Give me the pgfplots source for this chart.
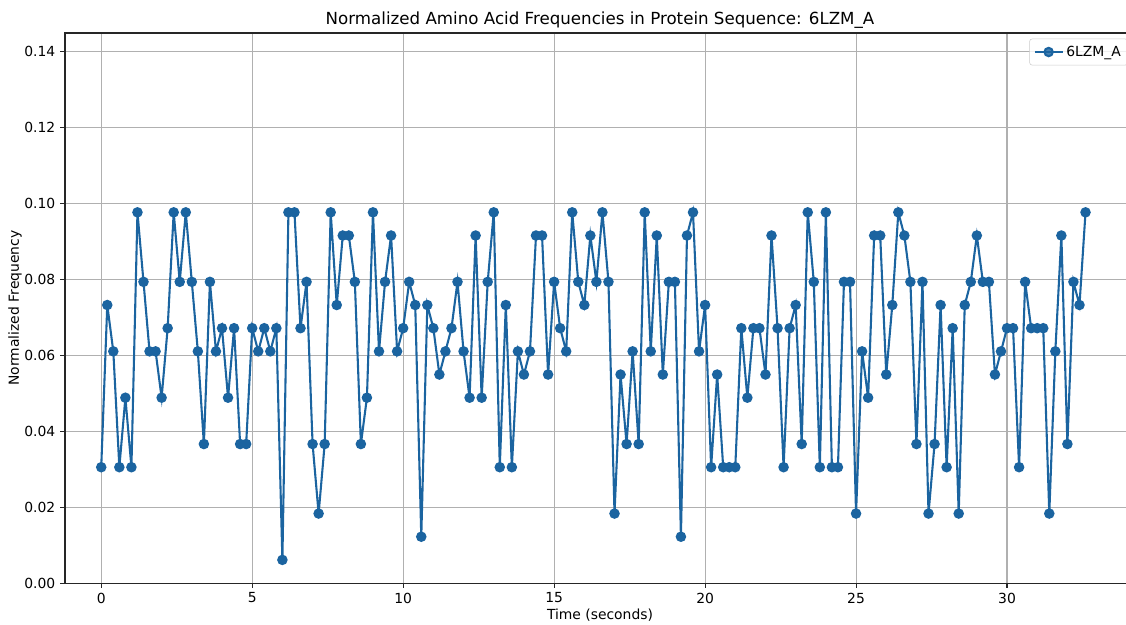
\documentclass[border=0pt]{standalone}
\usepackage{fontspec}
\setmainfont{DejaVu Sans}
\usepackage{pgfplots}
\usepackage{pgfplotstable}
\pgfplotsset{compat=1.18}

\definecolor{mplblue}{HTML}{1B64A0}
\definecolor{gridgray}{RGB}{176,176,176}

% residue index * 0.2 vs. normalized frequency of that amino acid
\pgfplotstableread{
x y
0.0 0.0305
0.2 0.0732
0.4 0.0610
0.6 0.0305
0.8 0.0488
1.0 0.0305
1.2 0.0976
1.4 0.0793
1.6 0.0610
1.8 0.0610
2.0 0.0488
2.2 0.0671
2.4 0.0976
2.6 0.0793
2.8 0.0976
3.0 0.0793
3.2 0.0610
3.4 0.0366
3.6 0.0793
3.8 0.0610
4.0 0.0671
4.2 0.0488
4.4 0.0671
4.6 0.0366
4.8 0.0366
5.0 0.0671
5.2 0.0610
5.4 0.0671
5.6 0.0610
5.8 0.0671
6.0 0.0061
6.2 0.0976
6.4 0.0976
6.6 0.0671
6.8 0.0793
7.0 0.0366
7.2 0.0183
7.4 0.0366
7.6 0.0976
7.8 0.0732
8.0 0.0915
8.2 0.0915
8.4 0.0793
8.6 0.0366
8.8 0.0488
9.0 0.0976
9.2 0.0610
9.4 0.0793
9.6 0.0915
9.8 0.0610
10.0 0.0671
10.2 0.0793
10.4 0.0732
10.6 0.0122
10.8 0.0732
11.0 0.0671
11.2 0.0549
11.4 0.0610
11.6 0.0671
11.8 0.0793
12.0 0.0610
12.2 0.0488
12.4 0.0915
12.6 0.0488
12.8 0.0793
13.0 0.0976
13.2 0.0305
13.4 0.0732
13.6 0.0305
13.8 0.0610
14.0 0.0549
14.2 0.0610
14.4 0.0915
14.6 0.0915
14.8 0.0549
15.0 0.0793
15.2 0.0671
15.4 0.0610
15.6 0.0976
15.8 0.0793
16.0 0.0732
16.2 0.0915
16.4 0.0793
16.6 0.0976
16.8 0.0793
17.0 0.0183
17.2 0.0549
17.4 0.0366
17.6 0.0610
17.8 0.0366
18.0 0.0976
18.2 0.0610
18.4 0.0915
18.6 0.0549
18.8 0.0793
19.0 0.0793
19.2 0.0122
19.4 0.0915
19.6 0.0976
19.8 0.0610
20.0 0.0732
20.2 0.0305
20.4 0.0549
20.6 0.0305
20.8 0.0305
21.0 0.0305
21.2 0.0671
21.4 0.0488
21.6 0.0671
21.8 0.0671
22.0 0.0549
22.2 0.0915
22.4 0.0671
22.6 0.0305
22.8 0.0671
23.0 0.0732
23.2 0.0366
23.4 0.0976
23.6 0.0793
23.8 0.0305
24.0 0.0976
24.2 0.0305
24.4 0.0305
24.6 0.0793
24.8 0.0793
25.0 0.0183
25.2 0.0610
25.4 0.0488
25.6 0.0915
25.8 0.0915
26.0 0.0549
26.2 0.0732
26.4 0.0976
26.6 0.0915
26.8 0.0793
27.0 0.0366
27.2 0.0793
27.4 0.0183
27.6 0.0366
27.8 0.0732
28.0 0.0305
28.2 0.0671
28.4 0.0183
28.6 0.0732
28.8 0.0793
29.0 0.0915
29.2 0.0793
29.4 0.0793
29.6 0.0549
29.8 0.0610
30.0 0.0671
30.2 0.0671
30.4 0.0305
30.6 0.0793
30.8 0.0671
31.0 0.0671
31.2 0.0671
31.4 0.0183
31.6 0.0610
31.8 0.0915
32.0 0.0366
32.2 0.0793
32.4 0.0732
32.6 0.0976
}\freqtable

\begin{document}
\begin{tikzpicture}
% page = 1126x624 px at 0.72pt per px, axis frame origin at (65,583) px
\useasboundingbox (-46.8pt,-29.5pt) rectangle (763.9pt,419.8pt);
\begin{axis}[
    at={(0pt,0pt)},
    anchor=south west,
    scale only axis,
    width=770.4pt,
    height=396pt,
    xmin=-1.2, xmax=34.24,
    ymin=0, ymax=0.1448,
    xtick={0,5,...,30},
    ytick={0,0.02,...,0.14},
    yticklabel style={/pgf/number format/.cd, fixed, fixed zerofill, precision=2},
    /pgf/number format/assume math mode=true,
    tick label style={font=\fontsize{10}{12}\selectfont},
    tick align=outside,
    tick pos=left,
    major tick length=3.5pt,
    every tick/.style={black!85, line width=0.8pt},
    axis line style={black!85, line width=0.8pt},
    grid=major,
    grid style={gridgray, line width=0.8pt},
    title={Normalized Amino Acid Frequencies in Protein Sequence: 6LZM\_A},
    title style={font=\fontsize{12}{14}\selectfont, yshift=-6.5pt},
    xlabel={Time (seconds)},
    ylabel={Normalized Frequency},
    label style={font=\fontsize{10}{12}\selectfont},
    xlabel style={at={(axis description cs:0.5,-0.0582)}, anchor=center},
    ylabel style={at={(axis description cs:-0.0467,0.5)}, anchor=center},
    legend style={at={(rel axis cs:1,1)}, anchor=north east,
        xshift=-5pt, yshift=-4pt, draw=black!20, rounded corners=2pt,
        fill=white, fill opacity=0.8, text opacity=1,
        font=\fontsize{10}{12}\selectfont, inner sep=3pt,
        cells={anchor=west}},
    legend image code/.code={
        \draw[#1] (0pt,0pt) -- (20pt,0pt);
        \draw[#1, only marks] plot coordinates {(10pt,0pt)};
    },
]
\addplot[color=mplblue, line width=1.5pt, mark=*, mark size=3pt,
    mark options={fill=mplblue, draw=mplblue}] table[x=x, y=y] {\freqtable};
\addlegendentry{6LZM\_A}
\end{axis}
\end{tikzpicture}
\end{document}
